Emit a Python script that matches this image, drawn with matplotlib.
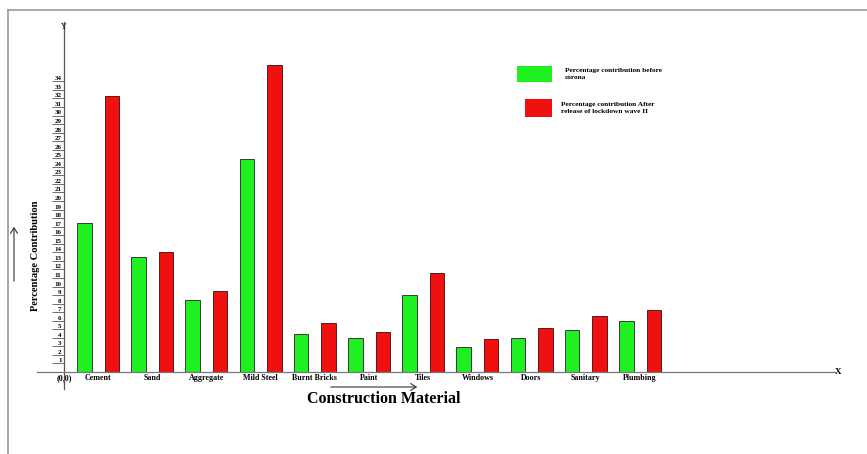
import numpy as np
import matplotlib
matplotlib.use('Agg')
import matplotlib.pyplot as plt
from matplotlib.patches import Rectangle, FancyArrowPatch

materials = ['Cement', 'Sand', 'Aggregate', 'Mild Steel', 'Burnt Bricks', 'Paint',
             'Tiles', 'Windows', 'Doors', 'Sanitary', 'Plumbing']
before = [17.4, 13.5, 8.4, 24.9, 4.4, 4.0, 9.0, 2.9, 4.0, 4.9, 6.0]
after = [32.3, 14.0, 9.5, 35.9, 5.7, 4.7, 11.6, 3.9, 5.1, 6.5, 7.3]
yticks = list(range(1, 35))
legend_labels = ['Percentage contribution before\ncorona',
                 'Percentage contribution After\nrelease of lockdown wave II']

green = '#1ff01f'
red = '#f01010'
W, H = 867, 454
serif = 'Liberation Serif'

fig = plt.figure(figsize=(W / 100, H / 100), dpi=100)

# main axes (pixel box 37..835 x, 22..389 y)
ax = fig.add_axes([37 / W, 1 - 389 / H, (835 - 37) / W, (389 - 22) / H])
unit = 8.55
y0 = 372
gap = 54.2
c0 = 98
ax.set_ylim(-(389 - y0) / unit, (y0 - 22) / unit)
ax.set_xlim((37 - c0) / gap, (835 - c0) / gap)
yaxis_x = (64 - c0) / gap

x = np.arange(len(materials))
off = 13.75 / gap
bw = 14.5 / gap
ax.bar(x - off, before, width=bw, color=green, edgecolor='#3a3a3a', linewidth=0.7)
ax.bar(x + off, after, width=bw, color=red, edgecolor='#5a1a1a', linewidth=0.7)

for s in ['top', 'right']:
    ax.spines[s].set_visible(False)
ax.spines['left'].set_position(('data', yaxis_x))
ax.spines['bottom'].set_position(('data', 0))
ax.spines['left'].set_color('#555555')
ax.spines['bottom'].set_color('#777777')
ax.spines['left'].set_linewidth(0.9)
ax.spines['bottom'].set_linewidth(0.9)

ax.set_yticks(yticks)
ax.set_yticklabels([str(v) for v in yticks], fontfamily=serif, fontweight='bold', fontsize=5)
ax.tick_params(axis='y', direction='out', length=8.6, width=0.6, color='#555555', pad=-6.8)
for lbl in ax.get_yticklabels():
    lbl.set_va('bottom')

ax.set_xticks([yaxis_x] + list(x))
ax.set_xticklabels(['(0,0)'] + materials, fontfamily=serif, fontweight='bold', fontsize=5.8)
ax.tick_params(axis='x', length=0, pad=1.5)

ax.text(yaxis_x, 40.3, 'Y', ha='center', va='center', fontfamily=serif, fontsize=6)
ax.text((838 - c0) / gap, 0, 'X', ha='center', va='center', fontfamily=serif,
        fontweight='bold', fontsize=6.5)

# overlay in pixel coords for decorations
ov = fig.add_axes([0, 0, 1, 1], facecolor='none')
ov.set_xlim(0, W)
ov.set_ylim(H, 0)
ov.axis('off')

ov.plot([8, W], [10, 10], color='#999999', lw=1.2)
ov.plot([8, 8], [10, H], color='#999999', lw=1.2)

ov.text(35, 256, 'Percentage Contribution', rotation=90, ha='center', va='center',
        fontfamily=serif, fontweight='bold', fontsize=7.6)
ov.text(384, 399, 'Construction Material', ha='center', va='center',
        fontfamily=serif, fontweight='bold', fontsize=11.5)

ov.add_patch(FancyArrowPatch((14, 284), (14, 224), arrowstyle='->,head_length=4,head_width=2.5',
                             lw=0.8, color='#333333'))
ov.add_patch(FancyArrowPatch((328, 387), (420, 387), arrowstyle='->,head_length=4,head_width=2.5',
                             lw=0.8, color='#333333'))

# legend
ov.add_patch(Rectangle((517, 66), 35, 16, color=green, lw=0))
ov.add_patch(Rectangle((525, 99), 27, 18, color=red, lw=0))
ov.text(565, 74, legend_labels[0], ha='left', va='center', fontfamily=serif,
        fontweight='bold', fontsize=5.3, linespacing=1.35)
ov.text(561, 108, legend_labels[1], ha='left', va='center', fontfamily=serif,
        fontweight='bold', fontsize=5.3, linespacing=1.35)

plt.savefig('out.png', dpi=100)
